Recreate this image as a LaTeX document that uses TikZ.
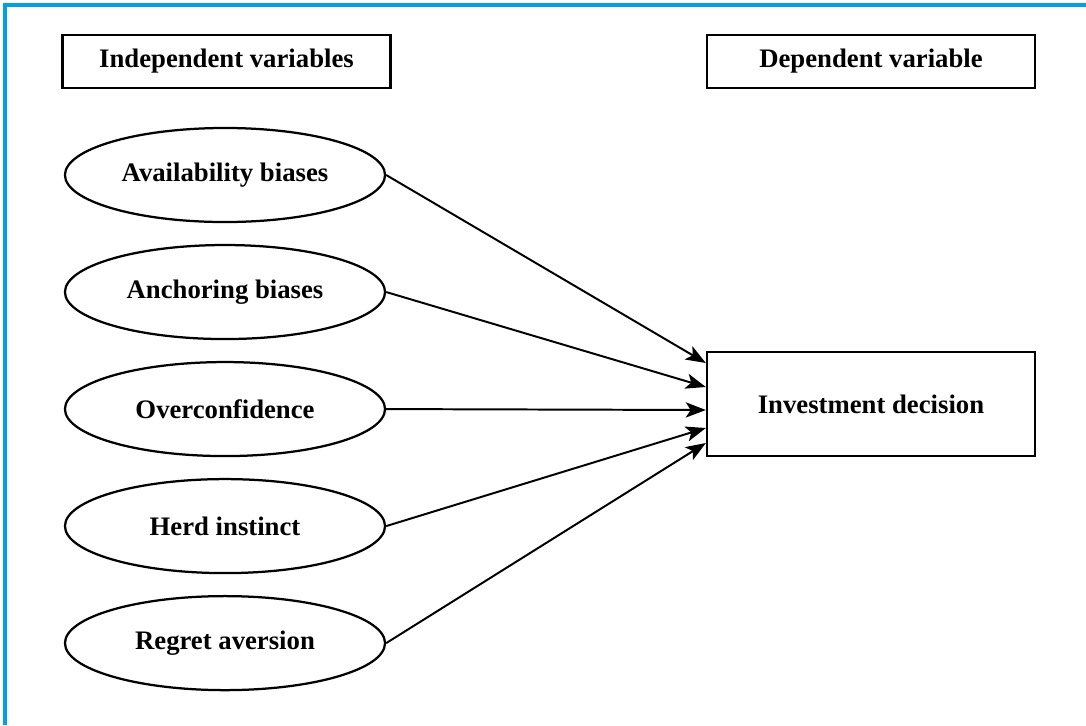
\documentclass[tikz,border=0pt]{standalone}
\usepackage{fontspec}
\setmainfont{Liberation Serif}
\usetikzlibrary{arrows.meta}
\usetikzlibrary{positioning}
\usetikzlibrary{shapes.geometric}
\definecolor{frameblue}{RGB}{0,160,227}

\begin{document}
\begin{tikzpicture}[x=0.025cm,y=-0.025cm,node distance=2.925cm,every node/.style={draw,line width=1.6pt,inner sep=0pt,font=\fontsize{19}{23}\selectfont\bfseries},ell/.style={ellipse,minimum width=8cm,minimum height=2.35cm},box/.style={rectangle,minimum width=8.2cm,minimum height=1.32cm},arr/.style={-{Stealth[length=5mm,width=3.8mm,inset=1.2mm]},line width=1.4pt}]
  \useasboundingbox (0,0) rectangle (1086,725);
  \draw[frameblue,line width=2.2pt](5,725)--(5,5)--(1086,5);

  \node[box] (iv) at (226.5,61.5){Independent variables};
  \node[box] (dv) at (871,61.5){Dependent variable};

  \node[ell] (1) at (225,175){Availability biases};
  \node[ell,below of=1](2){Anchoring biases};
  \node[ell,below of=2](3){Overconfidence};
  \node[ell,below of=3](4){Herd instinct};
  \node[ell,below of=4](5){Regret aversion};

  \node[box,minimum height=2.6cm] (dec) at (871,404){Investment decision};

  \draw[arr](1.east)--([yshift=1.025cm]dec.west);
  \draw[arr](2.east)--([yshift=0.425cm]dec.west);
  \draw[arr](3.east)--([yshift=-0.15cm]dec.west);
  \draw[arr](4.east)--([yshift=-0.6cm]dec.west);
  \draw[arr](5.east)--([yshift=-0.975cm]dec.west);

\end{tikzpicture}
\end{document}
